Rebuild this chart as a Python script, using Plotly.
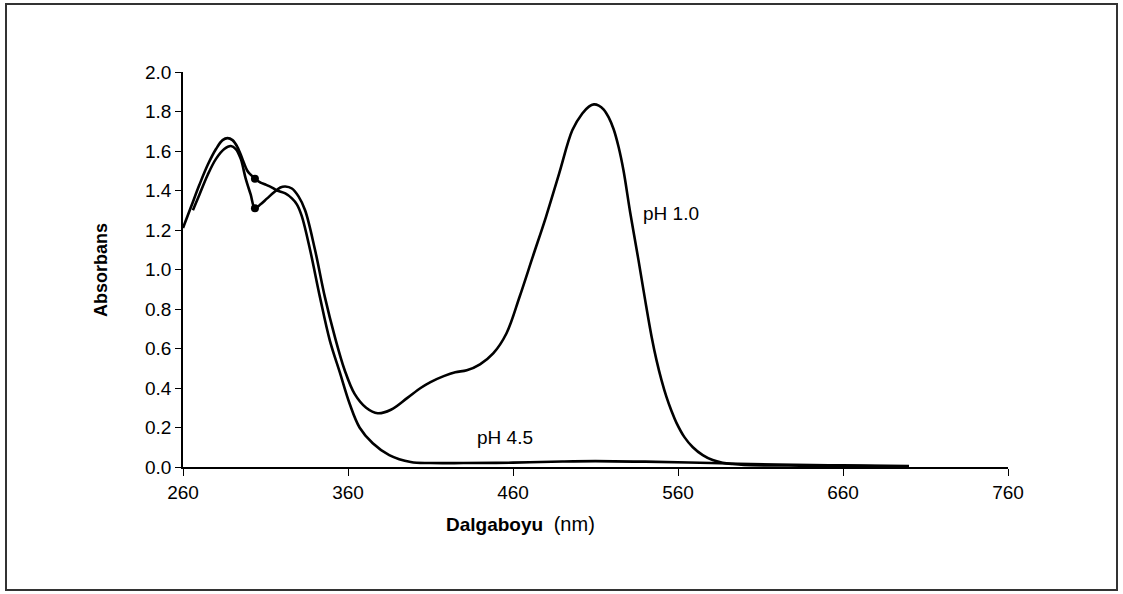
import plotly.graph_objects as go

# pH 1.0 spectrum (wavelength nm, absorbance)
wl_ph1 = [266, 270, 275, 280, 285, 289, 292, 295, 298, 301, 303.6, 307, 311, 315, 319, 322, 326, 330, 334, 340,
          346, 352, 358, 364, 371, 378, 386, 396, 404, 410, 418, 425, 432, 440, 448, 456, 464, 472, 480, 488,
          496, 502, 506, 509, 512, 515, 518, 521, 524, 527, 531, 536, 540, 544, 547, 550, 553, 556, 559, 564, 569,
          575, 581, 587, 593, 600, 620, 640, 660, 680, 700]
abs_ph1 = [1.30, 1.38, 1.48, 1.56, 1.61, 1.625, 1.61, 1.56, 1.46, 1.38, 1.31, 1.33, 1.36, 1.39, 1.415, 1.42, 1.41, 1.37, 1.30, 1.10,
           0.86, 0.66, 0.49, 0.37, 0.30, 0.272, 0.29, 0.35, 0.40, 0.43, 0.46, 0.48, 0.49, 0.52, 0.575, 0.676, 0.862, 1.065, 1.267, 1.487,
           1.706, 1.79, 1.825, 1.836, 1.83, 1.81, 1.77, 1.71, 1.62, 1.50, 1.29, 1.05, 0.85, 0.66, 0.54, 0.44, 0.355, 0.285, 0.225, 0.15, 0.10,
           0.06, 0.035, 0.022, 0.015, 0.01, 0.008, 0.006, 0.005, 0.004, 0.003]

# pH 4.5 spectrum
wl_ph45 = [260, 265, 270, 275, 280, 284, 287, 290, 293, 296, 299, 301, 303.6, 307, 310, 314, 317, 322, 326, 329,
           332, 337, 343, 349, 355, 361, 367, 375, 385, 398, 410, 430, 460, 490, 510, 540, 580, 620, 660, 700]
abs_ph45 = [1.21, 1.32, 1.43, 1.53, 1.61, 1.655, 1.665, 1.655, 1.62, 1.56, 1.50, 1.48, 1.46, 1.44, 1.43, 1.415, 1.40, 1.385, 1.36, 1.33,
            1.27, 1.10, 0.86, 0.64, 0.48, 0.32, 0.20, 0.12, 0.06, 0.025, 0.02, 0.02, 0.022, 0.028, 0.03, 0.027, 0.02, 0.012, 0.008, 0.005]

# marked points
dot_wl = [303.6, 303.6]
dot_abs = [1.31, 1.46]

x_ticks = [260, 360, 460, 560, 660, 760]
y_ticks = [0.0, 0.2, 0.4, 0.6, 0.8, 1.0, 1.2, 1.4, 1.6, 1.8, 2.0]

W, H = 1123, 594
L, R, T, B = 183, 115, 72, 127
pw, ph = W - L - R, H - T - B

def px(xp):
    return (xp - L) / pw

def py(yp):
    return (H - B - yp) / ph

fig = go.Figure()
line_style = dict(color="black", width=2.6, shape="spline", smoothing=1.0)
fig.add_trace(go.Scatter(x=wl_ph1, y=abs_ph1, mode="lines", line=line_style, showlegend=False))
fig.add_trace(go.Scatter(x=wl_ph45, y=abs_ph45, mode="lines", line=line_style, showlegend=False))
fig.add_trace(go.Scatter(x=dot_wl, y=dot_abs, mode="markers", marker=dict(color="black", size=8), showlegend=False))

font_family = "Liberation Sans, Arial, sans-serif"

fig.update_layout(
    width=W, height=H,
    margin=dict(l=L, r=R, t=T, b=B),
    paper_bgcolor="white", plot_bgcolor="white",
    font=dict(family=font_family, size=19, color="black"),
    xaxis=dict(range=[260, 760], tickvals=x_ticks, ticktext=[str(v) for v in x_ticks],
               showgrid=False, zeroline=False, showline=True, linecolor="black", linewidth=1.5,
               ticks="outside", ticklen=7, tickcolor="black", tickfont=dict(size=19)),
    yaxis=dict(range=[0, 2.0], tickvals=y_ticks, ticktext=[f"{v:.1f}" for v in y_ticks],
               showgrid=False, zeroline=False, showline=True, linecolor="black", linewidth=1.5,
               ticks="outside", ticklen=6, tickcolor="black", tickfont=dict(size=19)),
    shapes=[dict(type="rect", xref="paper", yref="paper",
                 x0=px(6), x1=px(1117), y0=py(590), y1=py(4),
                 line=dict(color="#333333", width=2))],
    annotations=[
        dict(x=556, y=1.286, xref="x", yref="y", text="pH 1.0", showarrow=False,
             xanchor="center", yanchor="middle", font=dict(size=19)),
        dict(x=455, y=0.147, xref="x", yref="y", text="pH 4.5", showarrow=False,
             xanchor="center", yanchor="middle", font=dict(size=19)),
        dict(x=px(101), y=py(270), xref="paper", yref="paper", text="<b>Absorbans</b>",
             textangle=-90, showarrow=False, xanchor="center", yanchor="middle", font=dict(size=18)),
        dict(x=px(520), y=py(524), xref="paper", yref="paper",
             text="<b>Dalgaboyu</b>  <span style='font-size:20px'>(nm)</span>",
             showarrow=False, xanchor="center", yanchor="middle", font=dict(size=19)),
    ],
)

fig.write_html("out.html")
